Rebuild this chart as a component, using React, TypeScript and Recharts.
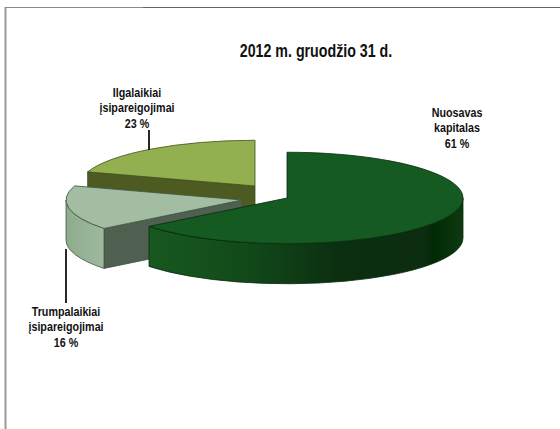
import React from "react";
import { PieChart, Pie } from "recharts";

// Values as printed on the chart, drawn back-to-front (counter-clockwise from 12 o'clock)
const names = ["Ilgalaikiai įsipareigojimai", "Trumpalaikiai įsipareigojimai", "Nuosavas kapitalas"];
const shares = [23, 16, 61];
const title = "2012 m. gruodžio 31 d.";

const labelLines = [
  ["Ilgalaikiai", "įsipareigojimai", "23 %"],
  ["Trumpalaikiai", "įsipareigojimai", "16 %"],
  ["Nuosavas", "kapitalas", "61 %"],
];

const topColors = ["#93b050", "#a2bda2", "#155a20"];
const faceColors = ["#4d5a22", "#4f5f50", "#0d3a14"];
const edgeColors = ["#3f4f1a", "#3c553c", "#062a0c"];
const rimGradients = ["url(#rimOlive)", "url(#rimSage)", "url(#rimGreen)"];

// Explosion of each slice and label placement, in pixels
const explode = [[-33, -12], [-46, 2], [-1, 0]];
const labelPos = [[137, 97], [66, 316], [457, 117]];
const leaders = [[149, 130, 149, 150], [66, 249, 66, 303], null];

const TILT = 0.26;
const DEPTH = 40;

const data = names.map((name, i) => ({ name, value: shares[i], index: i }));

// Perspective foreshortening of the drawing: front of the disc opens up, the back closes
const rad = (d: number) => (d * Math.PI) / 180;
const warp = (t: number) => t - 7.2 * Math.sin(rad(t)) + 4.2 * (1 - Math.cos(rad(t)));

function Slice3D(props: any) {
  const { cx, cy, outerRadius, startAngle, endAngle, payload } = props;
  const i = payload?.index ?? props.index ?? 0;
  const ox = cx + explode[i][0];
  const oy = cy + explode[i][1];
  const rx = outerRadius;
  const ry = outerRadius * TILT;
  const a1 = warp(450 - endAngle);
  const a2 = warp(450 - startAngle);
  const pt = (a: number, drop = 0) => [ox + rx * Math.sin(rad(a)), oy - ry * Math.cos(rad(a)) + drop];
  const fmt = (p: number[]) => `${p[0].toFixed(2)} ${p[1].toFixed(2)}`;
  const stroke = edgeColors[i];
  const els: React.ReactNode[] = [];

  const face = (a: number, key: string) => (
    <path
      key={key}
      d={`M${fmt(pt(a))} L${fmt([ox, oy])} L${fmt([ox, oy + DEPTH])} L${fmt(pt(a, DEPTH))} Z`}
      fill={faceColors[i]}
      stroke={stroke}
      strokeWidth={0.8}
    />
  );
  if (Math.sin(rad(a1)) < -0.01) els.push(face(a1, "f1"));
  if (Math.sin(rad(a2)) > 0.01) els.push(face(a2, "f2"));

  const r1 = Math.max(a1, 90);
  const r2 = Math.min(a2, 270);
  if (r2 > r1) {
    const large = r2 - r1 > 180 ? 1 : 0;
    els.push(
      <path
        key="rim"
        d={`M${fmt(pt(r1))} A${rx} ${ry} 0 ${large} 1 ${fmt(pt(r2))} L${fmt(pt(r2, DEPTH))} A${rx} ${ry} 0 ${large} 0 ${fmt(pt(r1, DEPTH))} Z`}
        fill={rimGradients[i]}
        stroke={stroke}
        strokeWidth={0.8}
      />
    );
  }
  const largeTop = a2 - a1 > 180 ? 1 : 0;
  els.push(
    <path
      key="top"
      d={`M${fmt([ox, oy])} L${fmt(pt(a1))} A${rx} ${ry} 0 ${largeTop} 1 ${fmt(pt(a2))} Z`}
      fill={topColors[i]}
      stroke={stroke}
      strokeWidth={0.8}
    />
  );
  return <g>{els}</g>;
}

const FONT = '"Liberation Sans", Arial, sans-serif';

function SliceLabel(props: any) {
  const i = props.index ?? props.payload?.index ?? 0;
  const [x, y] = labelPos[i];
  const lead = leaders[i];
  return (
    <g>
      {lead && <line x1={lead[0]} y1={lead[1]} x2={lead[2]} y2={lead[3]} stroke="#111" strokeWidth={1.8} />}
      <text
        transform={`translate(${x} ${y}) scale(0.86 1)`}
        textAnchor="middle"
        fontFamily={FONT}
        fontWeight={700}
        fontSize={12.5}
        fill="#111"
      >
        {labelLines[i].map((line, k) => (
          <tspan key={k} x={0} dy={k === 0 ? 0 : 15.5}>
            {line}
          </tspan>
        ))}
      </text>
    </g>
  );
}

export default function App() {
  return (
    <div style={{ position: "absolute", left: 0, top: 0, width: 560, height: 429, background: "#fff" }}>
      <PieChart width={560} height={429} margin={{ top: 0, right: 0, bottom: 0, left: 0 }}>
        <defs>
          <linearGradient id="rimGreen" gradientUnits="userSpaceOnUse" x1="150" y1="0" x2="464" y2="0">
            <stop offset="0" stopColor="#17591f" />
            <stop offset="0.3" stopColor="#124a1a" />
            <stop offset="0.6" stopColor="#0b2f10" />
            <stop offset="0.88" stopColor="#0c2c10" />
            <stop offset="0.9" stopColor="#012a04" />
            <stop offset="1" stopColor="#0f3a10" />
          </linearGradient>
          <linearGradient id="rimSage" gradientUnits="userSpaceOnUse" x1="63" y1="0" x2="105" y2="0">
            <stop offset="0" stopColor="#8cab8a" />
            <stop offset="1" stopColor="#a0b9a0" />
          </linearGradient>
          <linearGradient id="rimOlive" gradientUnits="userSpaceOnUse" x1="85" y1="0" x2="255" y2="0">
            <stop offset="0" stopColor="#5a6a28" />
            <stop offset="1" stopColor="#4d5a22" />
          </linearGradient>
        </defs>
        <line x1={5.5} y1={7} x2={5.5} y2={429} stroke="#999" strokeWidth={2} />
        <line x1={5} y1={7.5} x2={143} y2={7.5} stroke="#8a8a8a" strokeWidth={1} />
        <line x1={143} y1={7.5} x2={560} y2={7.5} stroke="#666" strokeWidth={1} />
        <Pie
          data={data}
          dataKey="value"
          nameKey="name"
          cx={288}
          cy={198}
          outerRadius={176}
          startAngle={90}
          endAngle={450}
          paddingAngle={0}
          stroke="none"
          isAnimationActive={false}
          shape={Slice3D}
          activeShape={Slice3D}
          inactiveShape={Slice3D}
          label={SliceLabel}
          labelLine={false}
        />
        <text
          transform="translate(316 57) scale(0.79 1)"
          textAnchor="middle"
          fontFamily={FONT}
          fontWeight={700}
          fontSize={18}
          fill="#111"
        >
          {title}
        </text>
      </PieChart>
    </div>
  );
}
